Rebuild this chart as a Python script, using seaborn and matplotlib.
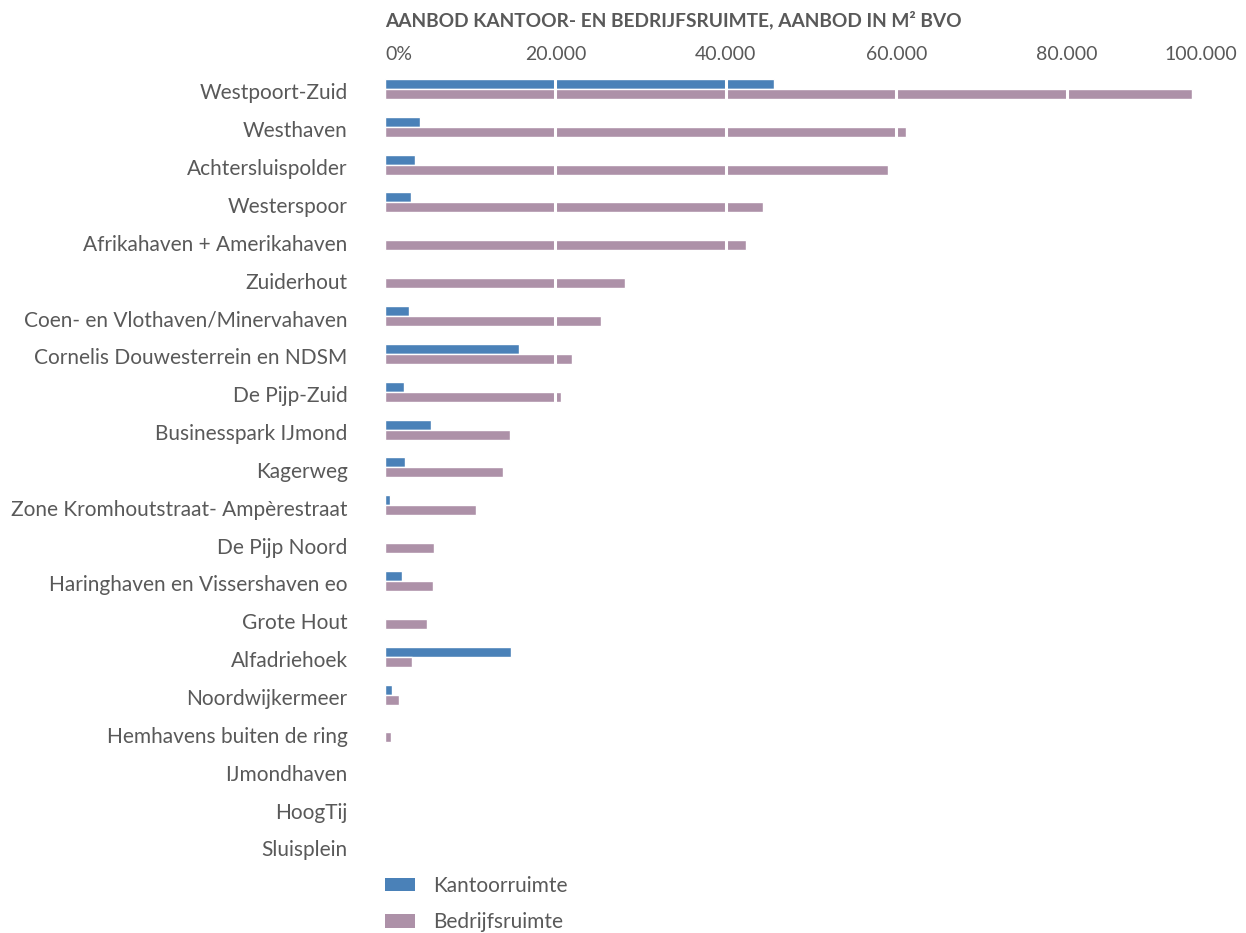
import matplotlib
matplotlib.use("Agg")
import matplotlib.pyplot as plt
import seaborn as sns
import pandas as pd
from matplotlib.patches import Patch
from matplotlib.transforms import ScaledTranslation

# Supply of office and business space per area, in m2 floor area (BVO)
gebieden = [
    "Westpoort-Zuid", "Westhaven", "Achtersluispolder", "Westerspoor",
    "Afrikahaven + Amerikahaven", "Zuiderhout", "Coen- en Vlothaven/Minervahaven",
    "Cornelis Douwesterrein en NDSM", "De Pijp-Zuid", "Businesspark IJmond",
    "Kagerweg", "Zone Kromhoutstraat- Ampèrestraat", "De Pijp Noord",
    "Haringhaven en Vissershaven eo", "Grote Hout", "Alfadriehoek",
    "Noordwijkermeer", "Hemhavens buiten de ring", "IJmondhaven", "HoogTij",
    "Sluisplein",
]
kantoorruimte = [45700, 4100, 3500, 3000, 0, 0, 2800, 15700, 2200, 5400,
                 2300, 600, 0, 2000, 0, 14800, 800, 0, 0, 0, 0]
bedrijfsruimte = [94700, 61100, 59000, 44400, 42300, 28200, 25300, 21900, 20600,
                  14700, 13800, 10700, 5700, 5600, 4900, 3200, 1600, 700, 0, 0, 0]
reeksen = ["Kantoorruimte", "Bedrijfsruimte"]
tick_waarden = [0, 20000, 40000, 60000, 80000, 100000]
tick_labels = ["0%", "20.000", "40.000", "60.000", "80.000", "100.000"]
titel = "AANBOD KANTOOR- EN BEDRIJFSRUIMTE, AANBOD IN M² BVO"

kleuren = {"Kantoorruimte": "#4a81b8", "Bedrijfsruimte": "#ad91a8"}
tekstkleur = "#595959"

df = pd.DataFrame({
    "gebied": gebieden * 2,
    "reeks": [reeksen[0]] * len(gebieden) + [reeksen[1]] * len(gebieden),
    "m2": kantoorruimte + bedrijfsruimte,
})

sns.set_theme(style="white")
plt.rcParams["font.family"] = ["Lato", "DejaVu Sans"]

fig = plt.figure(figsize=(12.46, 9.33), dpi=100)
ax = fig.add_axes([0.309, 0.073, 0.684, 0.852])

sns.barplot(data=df, y="gebied", x="m2", hue="reeks", order=gebieden,
            hue_order=reeksen, palette=kleuren, orient="h", width=0.53,
            saturation=1, legend=False, ax=ax)

ax.set_xlim(0, 100000)
# white vertical gridlines drawn over the bars
for t in tick_waarden[1:-1]:
    ax.axvline(t, color="white", lw=2.2, zorder=5)

ax.xaxis.tick_top()
ax.set_xticks(tick_waarden)
ax.set_xticklabels(tick_labels)
ax.tick_params(axis="x", length=0, pad=5, labelsize=14, labelcolor=tekstkleur)
ax.tick_params(axis="y", length=0, pad=27, labelsize=15, labelcolor=tekstkleur)
xl = ax.get_xticklabels()
xl[0].set_horizontalalignment("left")
xl[-1].set_horizontalalignment("right")
# category labels sit slightly below the bar pair
omlaag = ScaledTranslation(0, -2.5 / 100, fig.dpi_scale_trans)
for lbl in ax.get_yticklabels():
    lbl.set_transform(lbl.get_transform() + omlaag)
ax.set_xlabel("")
ax.set_ylabel("")
for s in ax.spines.values():
    s.set_visible(False)

fig.text(0.309, 0.979, titel, fontsize=13.8, fontweight="bold", color=tekstkleur,
         ha="left", va="center")

handles = [Patch(facecolor=kleuren[r], edgecolor="none") for r in reeksen]
fig.legend(handles, reeksen, loc="upper left", bbox_to_anchor=(0.309, 0.061),
           frameon=False, fontsize=15, labelcolor=tekstkleur, borderpad=0,
           borderaxespad=0, handlelength=1.44, handleheight=0.6,
           handletextpad=0.87, labelspacing=0.78)

fig.savefig("out.png", dpi=100, facecolor="white")
